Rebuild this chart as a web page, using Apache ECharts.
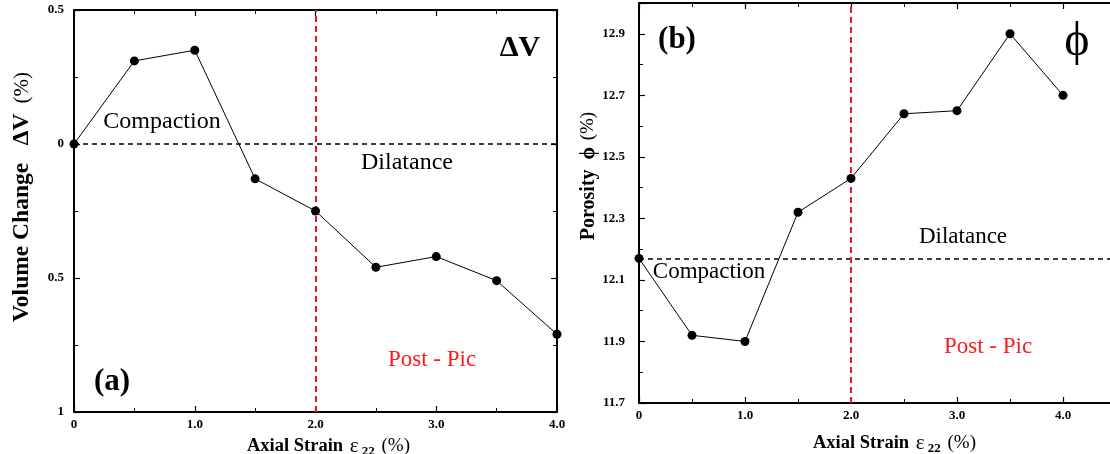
<!DOCTYPE html>
<html>
<head>
<meta charset="utf-8">
<script src="https://cdn.jsdelivr.net/npm/echarts@6/dist/echarts.min.js"></script>
<style>
  html, body { margin: 0; padding: 0; background: #fff; }
  #chart { width: 1110px; height: 454px; }
</style>
</head>
<body>
<div id="chart"></div>
<script>
// Axial strain steps (%) shared by both panels
const strain = [0, 0.5, 1.0, 1.5, 2.0, 2.5, 3.0, 3.5, 4.0];
// Panel (a): volume change ΔV (%)
const volumeChange = [0, 0.31, 0.35, -0.13, -0.25, -0.46, -0.42, -0.51, -0.71];
// Panel (b): porosity φ (%)
const porosity = [12.17, 11.92, 11.90, 12.32, 12.43, 12.64, 12.65, 12.90, 12.70];
// Reference levels
const postPeakStrain = 2.0;
const volumeRef = 0;
const porosityRef = 12.17;
// Axis ranges and tick steps
const volRange = [-1, 0.5], volStep = 0.5;
const porRange = [11.7, 13.0], porStep = 0.2;
const strainRangeA = [0, 4], strainRangeB = [0, 4.5], strainStep = 1;

const SERIF = "'Liberation Serif', 'Times New Roman', serif";
const tickLabel = { fontFamily: SERIF, fontWeight: 'bold', fontSize: 13, color: '#000' };
const axisLine = { show: true, onZero: false, lineStyle: { color: '#000', width: 2 } };
const axisTick = { show: true, inside: true, length: 6, lineStyle: { color: '#000', width: 1.2 } };
const minorTick = { show: true, splitNumber: 2, length: 4, lineStyle: { color: '#000', width: 1 } };

const strainTitle = '{b|Axial Strain}  {e|ε}{s| 22}  {p|(%)}';
const strainRich = {
  b: { fontFamily: SERIF, fontWeight: 'bold', fontSize: 18.5, color: '#000' },
  e: { fontFamily: SERIF, fontSize: 21, color: '#000' },
  s: { fontFamily: SERIF, fontWeight: 'bold', fontSize: 13, color: '#000', padding: [11, 0, 0, 0] },
  p: { fontFamily: SERIF, fontSize: 19, color: '#000' }
};

function strainLabel(v) {
  if (v > 4.01) return '';
  return v === 0 ? '0' : v.toFixed(1);
}

const chart = echarts.init(document.getElementById('chart'), null, { renderer: 'canvas' });

const note = (text, x, y, size, weight, color) => ({
  type: 'text', x: x, y: y, z: 100,
  style: {
    text: text, fontFamily: SERIF, fontSize: size, fontWeight: weight || 'normal', fill: color || '#000',
    textAlign: 'center', textVerticalAlign: 'middle'
  }
});

chart.setOption({
  animation: false,
  backgroundColor: '#fff',
  grid: [
    { left: 74, top: 10, width: 483, height: 402, outerBoundsMode: 'none', containLabel: false },
    { left: 639, top: 3, width: 477, height: 400, outerBoundsMode: 'none', containLabel: false }
  ],
  xAxis: [
    {
      gridIndex: 0, type: 'value', min: strainRangeA[0], max: strainRangeA[1], interval: strainStep,
      name: strainTitle, nameLocation: 'middle', nameGap: 20,
      nameTextStyle: { padding: [0, 0, 0, 26], rich: strainRich },
      axisLine: axisLine, axisTick: axisTick, minorTick: minorTick, splitLine: { show: false },
      axisLabel: Object.assign({ margin: 6, formatter: strainLabel }, tickLabel)
    },
    {
      gridIndex: 0, type: 'value', position: 'top', min: strainRangeA[0], max: strainRangeA[1], interval: strainStep,
      axisLine: axisLine, axisTick: axisTick, minorTick: minorTick, splitLine: { show: false },
      axisLabel: { show: false }
    },
    {
      gridIndex: 1, type: 'value', min: strainRangeB[0], max: strainRangeB[1], interval: strainStep,
      name: strainTitle, nameLocation: 'middle', nameGap: 28,
      nameTextStyle: { padding: [0, 0, 0, 34], rich: strainRich },
      axisLine: axisLine, axisTick: axisTick, minorTick: minorTick, splitLine: { show: false },
      axisLabel: Object.assign({ margin: 6, formatter: strainLabel }, tickLabel)
    },
    {
      gridIndex: 1, type: 'value', position: 'top', min: strainRangeB[0], max: strainRangeB[1], interval: strainStep,
      axisLine: axisLine, axisTick: axisTick, minorTick: minorTick, splitLine: { show: false },
      axisLabel: { show: false }
    }
  ],
  yAxis: [
    {
      gridIndex: 0, type: 'value', min: volRange[0], max: volRange[1], interval: volStep,
      name: '{b|Volume Change   ΔV}   {p|(%)}', nameLocation: 'middle', nameGap: 40,
      nameTextStyle: {
        padding: [0, 0, 0, 28],
        rich: {
          b: { fontFamily: SERIF, fontWeight: 'bold', fontSize: 23.5, color: '#000' },
          p: { fontFamily: SERIF, fontSize: 21, color: '#000' }
        }
      },
      axisLine: axisLine, axisTick: axisTick, minorTick: minorTick, splitLine: { show: false },
      axisLabel: Object.assign({
        margin: 10,
        formatter: v => String(Math.abs(Math.round(v * 100) / 100))
      }, tickLabel)
    },
    {
      gridIndex: 0, type: 'value', position: 'right', min: volRange[0], max: volRange[1], interval: volStep,
      axisLine: axisLine, axisTick: axisTick, minorTick: minorTick, splitLine: { show: false },
      axisLabel: { show: false }
    },
    {
      gridIndex: 1, type: 'value', min: porRange[0], max: porRange[1], interval: porStep,
      name: '{b|Porosity  ϕ}  {p|(%)}', nameLocation: 'middle', nameGap: 40,
      nameTextStyle: {
        padding: [0, 0, 0, 54],
        rich: {
          b: { fontFamily: SERIF, fontWeight: 'bold', fontSize: 20, color: '#000' },
          p: { fontFamily: SERIF, fontSize: 19, color: '#000' }
        }
      },
      axisLine: axisLine, axisTick: axisTick, minorTick: minorTick,
      splitLine: { show: false },
      axisLabel: Object.assign({
        margin: 14,
        formatter: v => (v > 12.95 ? '' : v.toFixed(1))
      }, tickLabel)
    }
  ],
  series: [
    {
      type: 'line', xAxisIndex: 0, yAxisIndex: 0,
      data: strain.map((s, i) => [s, volumeChange[i]]),
      symbol: 'circle', symbolSize: 9,
      itemStyle: { color: '#000' },
      lineStyle: { color: '#000', width: 1 },
      z: 5,
      markLine: {
        silent: true, symbol: ['none', 'none'], label: { show: false }, animation: false,
        data: [
          { yAxis: volumeRef, lineStyle: { color: '#000', width: 1.5, type: [5, 4] } },
          { xAxis: postPeakStrain, lineStyle: { color: '#e8192c', width: 2, type: [6, 4] } }
        ]
      }
    },
    {
      type: 'line', xAxisIndex: 2, yAxisIndex: 2,
      data: strain.map((s, i) => [s, porosity[i]]),
      symbol: 'circle', symbolSize: 9,
      itemStyle: { color: '#000' },
      lineStyle: { color: '#000', width: 1 },
      z: 5,
      markLine: {
        silent: true, symbol: ['none', 'none'], label: { show: false }, animation: false,
        data: [
          { yAxis: porosityRef, lineStyle: { color: '#000', width: 1.5, type: [5, 4] } },
          { xAxis: postPeakStrain, lineStyle: { color: '#e8192c', width: 2, type: [6, 4] } }
        ]
      }
    }
  ],
  graphic: [
    note('Compaction', 162, 122, 24),
    note('Dilatance', 407, 163, 24),
    note('Post - Pic', 432, 360, 23, 'normal', '#ff1a1a'),
    note('(a)', 112, 382, 31, 'bold'),
    note('ΔV', 520, 48, 30, 'bold'),
    note('(b)', 677, 40, 31, 'bold'),
    note('ϕ', 1077, 42, 48),
    note('Dilatance', 963, 237, 23),
    note('Compaction', 709, 272, 23),
    note('Post - Pic', 988, 347, 23, 'normal', '#ff1a1a')
  ]
});
</script>
</body>
</html>
